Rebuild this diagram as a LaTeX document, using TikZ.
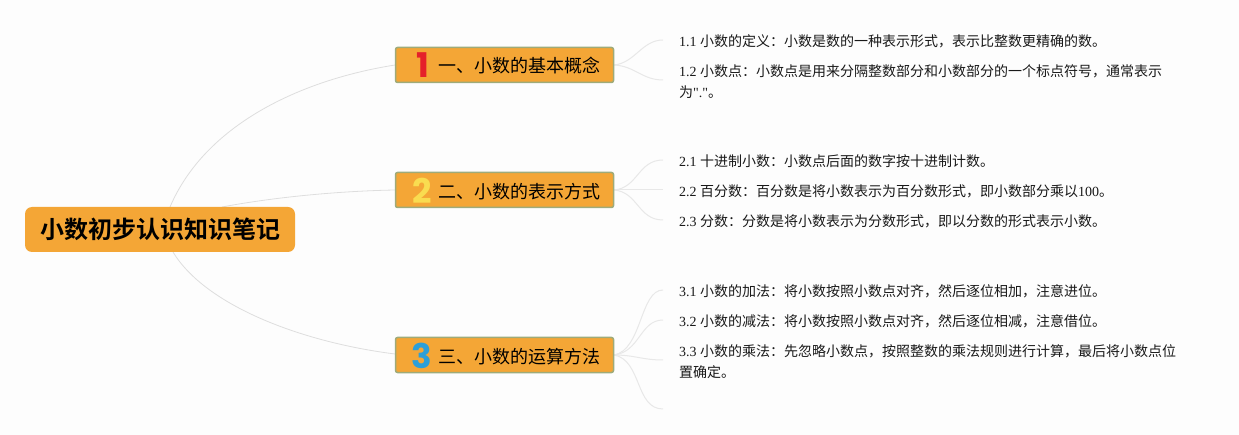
\documentclass[tikz,border=0pt]{standalone}
\usepackage{fontspec}
\setmainfont{Liberation Serif}
\newfontfamily\plainserif{Liberation Serif}
\newfontfamily\cjk{Noto Sans CJK SC}
\newfontfamily\cjkb{Noto Sans CJK SC Bold}
\newfontfamily\icon{Poppins Bold}
\definecolor{bgc}{HTML}{FDFDFD}
\definecolor{orangec}{HTML}{F4A636}
\definecolor{edgec}{HTML}{9EAB7A}
\definecolor{linec}{HTML}{DEDEDE}
\definecolor{leafc}{HTML}{E8E8E8}
\definecolor{redc}{HTML}{E5202A}
\definecolor{yelc}{HTML}{F9DC50}
\definecolor{bluc}{HTML}{2C9FD8}
\tikzset{
 rootbox/.style={fill=orangec,rounded corners=7pt,minimum width=270pt,minimum height=45pt,inner sep=0pt,font=\fontsize{24}{24}\selectfont\cjkb,text=black},
 branchbox/.style={fill=orangec,draw=edgec,line width=1.5pt,rounded corners=2pt,minimum width=218pt,minimum height=35pt,inner sep=0pt},
 branchtext/.style={anchor=west,inner sep=0pt,font=\fontsize{18}{18}\selectfont\cjk,text=black},
 badge/.style={anchor=center,inner sep=0pt,font=\fontsize{34}{34}\selectfont\icon},
 leaftext/.style={anchor=west,inner sep=0pt,align=left,font=\fontsize{14}{21}\selectfont,text=black!90},
 curve/.style={draw=linec,line width=0.8pt},
 leafcurve/.style={draw=leafc,line width=1pt}
}
\begin{document}
\begin{tikzpicture}[x=1pt,y=-1pt]
\useasboundingbox (0,0) rectangle (1239,435);
\fill[bgc] (0,0) rectangle (1239,435);

\coordinate (r1) at (170,207);
\coordinate (r2) at (222,207);
\coordinate (r3) at (173,252);
\coordinate (b1in) at (395,65);
\coordinate (b2in) at (395,190);
\coordinate (b3in) at (395,354);
\coordinate (b1out) at (614,65);
\coordinate (b2out) at (614,190);
\coordinate (b3out) at (614,355);
\coordinate (e11) at (663,40);
\coordinate (e12) at (663,80);
\coordinate (e21) at (663,160);
\coordinate (e22) at (663,190);
\coordinate (e23) at (663,220);
\coordinate (e31) at (663,290);
\coordinate (e32) at (663,320);
\coordinate (e33) at (663,360);
\coordinate (e34) at (663,409);

\draw[curve] (r1) .. controls (205,125) and (300,80) .. (b1in);
\draw[curve] (r2) .. controls (275,197) and (340,191) .. (b2in);
\draw[curve] (r3) .. controls (205,305) and (300,342) .. (b3in);

\draw[leafcurve] (b1out) .. controls (635,63) and (642,40) .. (e11);
\draw[leafcurve] (b1out) .. controls (635,66) and (642,80) .. (e12);
\draw[leafcurve] (b2out) .. controls (638,188) and (638,160) .. (e21);
\draw[leafcurve] (b2out) -- (e22);
\draw[leafcurve] (b2out) .. controls (638,192) and (638,220) .. (e23);
\draw[leafcurve] (b3out) .. controls (642,350) and (640,290) .. (e31);
\draw[leafcurve] (b3out) .. controls (640,352) and (640,320) .. (e32);
\draw[leafcurve] (b3out) .. controls (635,355) and (642,360) .. (e33);
\draw[leafcurve] (b3out) .. controls (642,360) and (635,409) .. (e34);

\node[rootbox] (root) at (160,229.5) {小数初步认识知识笔记};

\node[branchbox] (b1) at (504.5,65) {};
\node[branchbox] (b2) at (504.5,190) {};
\node[branchbox] (b3) at (504.5,355) {};
\node[badge,text=redc] (n1) at (422.5,65.5) {1};
\node[badge,text=yelc] (n2) at (422,190.5) {2};
\node[badge,text=bluc] (n3) at (422,355.5) {3};
\node[branchtext] (t1) at (438,66) {一、小数的基本概念};
\node[branchtext] (t2) at (438,192) {二、小数的表示方式};
\node[branchtext] (t3) at (438,357) {三、小数的运算方法};

\node[leaftext] (l11) at (679,41) {1.1 {\cjk 小数的定义：小数是数的一种表示形式，表示比整数更精确的数。}};
\node[leaftext] (l12) at (679,81.5) {1.2 {\cjk 小数点：小数点是用来分隔整数部分和小数部分的一个标点符号，通常表示}\\{\cjk 为}{\plainserif "."}{\cjk 。}};
\node[leaftext] (l21) at (679,161) {2.1 {\cjk 十进制小数：小数点后面的数字按十进制计数。}};
\node[leaftext] (l22) at (679,191) {2.2 {\cjk 百分数：百分数是将小数表示为百分数形式，即小数部分乘以}100{\cjk 。}};
\node[leaftext] (l23) at (679,221) {2.3 {\cjk 分数：分数是将小数表示为分数形式，即以分数的形式表示小数。}};
\node[leaftext] (l31) at (679,291) {3.1 {\cjk 小数的加法：将小数按照小数点对齐，然后逐位相加，注意进位。}};
\node[leaftext] (l32) at (679,321) {3.2 {\cjk 小数的减法：将小数按照小数点对齐，然后逐位相减，注意借位。}};
\node[leaftext] (l33) at (679,361.5) {3.3 {\cjk 小数的乘法：先忽略小数点，按照整数的乘法规则进行计算，最后将小数点位}\\{\cjk 置确定。}};
\end{tikzpicture}
\end{document}
